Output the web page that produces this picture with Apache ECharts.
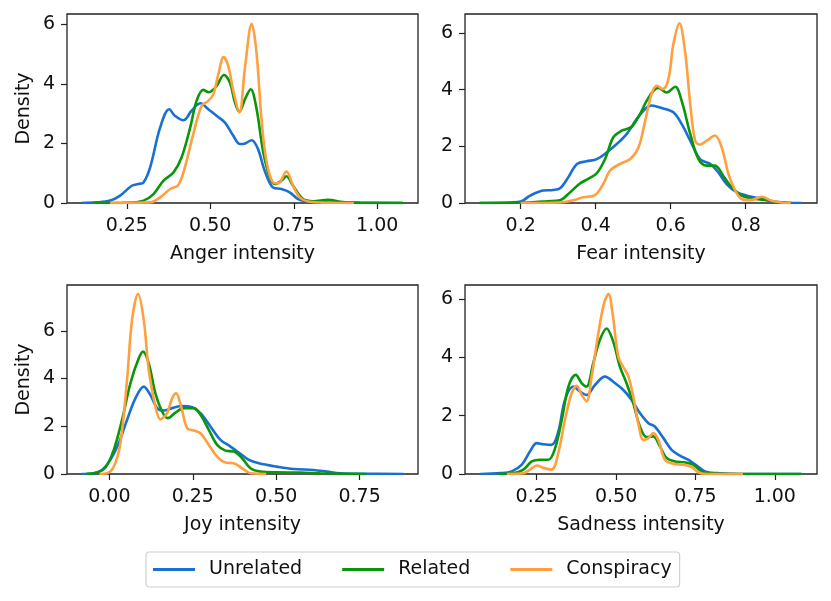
<!DOCTYPE html>
<html>
<head>
<meta charset="utf-8">
<script src="https://cdn.jsdelivr.net/npm/echarts@6/dist/echarts.min.js"></script>
<style>
html,body{margin:0;padding:0;background:#fff;}
#chart{width:831px;height:601px;}
</style>
</head>
<body>
<div id="chart"></div>
<script>
// ---------- DATA ----------
const seriesNames = ['Unrelated', 'Related', 'Conspiracy'];

const angerUnrelated = [[0.114,0],[0.16,0.02],[0.20,0.08],[0.23,0.25],[0.265,0.58],[0.285,0.64],[0.30,0.69],[0.32,1.2],[0.35,2.54],[0.377,3.15],[0.394,2.93],[0.42,2.78],[0.444,3.1],[0.471,3.35],[0.494,3.15],[0.519,2.93],[0.544,2.7],[0.569,2.26],[0.589,1.98],[0.604,2.0],[0.624,2.11],[0.643,1.81],[0.663,1.08],[0.688,0.52],[0.713,0.47],[0.738,0.36],[0.763,0.13],[0.798,0.04],[0.85,0.02],[0.95,0.005],[1.077,0]];
const angerRelated = [[0.15,0],[0.25,0.01],[0.30,0.08],[0.33,0.3],[0.36,0.75],[0.39,1.03],[0.414,1.53],[0.44,2.54],[0.459,3.43],[0.479,3.8],[0.495,3.72],[0.504,3.76],[0.519,3.93],[0.541,4.3],[0.559,4.04],[0.574,3.37],[0.587,3.07],[0.604,3.49],[0.621,3.82],[0.638,3.2],[0.658,1.75],[0.678,0.86],[0.693,0.64],[0.713,0.75],[0.728,0.9],[0.748,0.58],[0.778,0.13],[0.808,0.06],[0.853,0.11],[0.897,0.03],[0.95,0.01],[1.077,0]];
const angerConspiracy = [[0.2,0],[0.32,0.02],[0.35,0.19],[0.38,0.47],[0.404,0.6],[0.424,1.2],[0.449,2.31],[0.474,3.26],[0.494,3.43],[0.509,3.65],[0.524,4.32],[0.54,4.9],[0.554,4.6],[0.569,3.77],[0.587,3.04],[0.604,4.55],[0.624,6.02],[0.638,5.1],[0.653,2.87],[0.668,1.42],[0.688,0.69],[0.703,0.66],[0.728,1.06],[0.748,0.58],[0.768,0.19],[0.798,0.04],[0.85,0.01],[0.93,0]];

const fearUnrelated = [[0.0915,0],[0.15,0.005],[0.2,0.05],[0.225,0.26],[0.26,0.44],[0.287,0.46],[0.305,0.52],[0.327,0.91],[0.35,1.38],[0.376,1.47],[0.403,1.55],[0.43,1.79],[0.456,2.08],[0.483,2.44],[0.509,2.96],[0.532,3.32],[0.549,3.44],[0.576,3.35],[0.607,3.2],[0.629,2.79],[0.652,2.2],[0.678,1.55],[0.705,1.38],[0.727,1.08],[0.749,0.67],[0.776,0.38],[0.803,0.26],[0.838,0.16],[0.874,0.05],[0.91,0.01],[0.949,0]];
const fearRelated = [[0.09,0],[0.225,0.02],[0.27,0.06],[0.305,0.1],[0.332,0.38],[0.358,0.69],[0.38,0.85],[0.403,1.05],[0.425,1.55],[0.447,2.32],[0.469,2.55],[0.496,2.69],[0.518,3.14],[0.536,3.61],[0.554,3.96],[0.567,4.06],[0.589,3.9],[0.612,4.1],[0.629,3.61],[0.652,2.44],[0.674,1.55],[0.696,1.32],[0.718,1.32],[0.74,0.96],[0.763,0.55],[0.789,0.26],[0.825,0.14],[0.86,0.1],[0.883,0.02],[0.92,0]];
const fearConspiracy = [[0.2,0],[0.305,0.02],[0.34,0.1],[0.367,0.2],[0.398,0.28],[0.42,0.67],[0.438,1.14],[0.465,1.38],[0.492,1.55],[0.514,1.96],[0.532,2.9],[0.549,3.85],[0.563,4.14],[0.579,4.02],[0.594,4.38],[0.607,5.6],[0.623,6.34],[0.638,5.38],[0.652,3.49],[0.665,2.2],[0.678,2.06],[0.696,2.2],[0.718,2.38],[0.736,1.96],[0.754,1.02],[0.772,0.44],[0.789,0.14],[0.812,0.1],[0.843,0.22],[0.869,0.08],[0.9,0.01],[0.92,0]];

const joyUnrelated = [[-0.082,0],[-0.047,0.03],[-0.022,0.17],[0.003,0.59],[0.028,1.29],[0.053,2.27],[0.078,3.17],[0.103,3.66],[0.123,3.31],[0.143,2.76],[0.163,2.66],[0.188,2.76],[0.218,2.85],[0.248,2.8],[0.273,2.55],[0.303,1.99],[0.333,1.43],[0.363,1.15],[0.388,0.9],[0.418,0.59],[0.448,0.45],[0.502,0.31],[0.552,0.21],[0.612,0.17],[0.652,0.1],[0.692,0.03],[0.752,0.01],[0.882,0]];
const joyRelated = [[-0.07,0],[-0.037,0.06],[-0.012,0.27],[0.013,1.0],[0.038,2.27],[0.063,3.8],[0.088,4.85],[0.101,5.13],[0.118,4.64],[0.138,3.38],[0.158,2.62],[0.175,2.34],[0.198,2.57],[0.223,2.76],[0.253,2.76],[0.273,2.48],[0.298,1.85],[0.323,1.22],[0.348,0.98],[0.373,0.94],[0.398,0.66],[0.423,0.24],[0.453,0.1],[0.502,0.07],[0.572,0.06],[0.632,0.03],[0.7,0.01],[0.77,0]];
const joyConspiracy = [[-0.03,0],[-0.007,0.03],[0.013,0.3],[0.033,1.29],[0.053,3.94],[0.068,6.46],[0.086,7.55],[0.103,6.46],[0.118,4.36],[0.138,2.83],[0.153,2.29],[0.173,2.55],[0.188,3.17],[0.2,3.38],[0.215,2.83],[0.233,1.92],[0.253,1.82],[0.273,1.71],[0.298,1.22],[0.323,0.73],[0.348,0.48],[0.373,0.45],[0.398,0.24],[0.423,0.03],[0.453,0.005],[0.47,0]];

const sadnessUnrelated = [[0.072,0],[0.135,0.03],[0.171,0.09],[0.203,0.32],[0.229,0.78],[0.25,1.06],[0.271,1.02],[0.297,1.0],[0.318,1.45],[0.339,2.54],[0.365,3.0],[0.386,2.83],[0.407,2.71],[0.434,3.06],[0.465,3.34],[0.497,3.11],[0.523,2.88],[0.549,2.54],[0.575,2.09],[0.602,1.74],[0.622,1.63],[0.649,1.23],[0.675,0.83],[0.701,0.63],[0.727,0.49],[0.754,0.29],[0.78,0.09],[0.817,0.03],[0.89,0],[1.084,0]];
const sadnessRelated = [[0.124,0],[0.177,0.03],[0.208,0.15],[0.234,0.43],[0.26,0.49],[0.287,0.49],[0.308,0.89],[0.329,1.86],[0.35,3.0],[0.373,3.4],[0.392,3.11],[0.407,3.0],[0.428,3.8],[0.449,4.6],[0.47,4.99],[0.491,4.54],[0.512,3.68],[0.533,3.11],[0.554,2.43],[0.575,1.63],[0.596,1.27],[0.617,1.29],[0.638,0.95],[0.659,0.55],[0.685,0.43],[0.717,0.4],[0.743,0.32],[0.769,0.09],[0.801,0.02],[0.89,0],[1.084,0]];
const sadnessConspiracy = [[0.156,0],[0.208,0.03],[0.229,0.15],[0.25,0.29],[0.271,0.21],[0.297,0.15],[0.318,0.72],[0.339,1.86],[0.36,2.77],[0.376,3.02],[0.392,2.71],[0.407,2.49],[0.423,3.34],[0.444,4.82],[0.462,5.85],[0.476,6.17],[0.489,5.5],[0.507,4.02],[0.523,3.66],[0.539,3.34],[0.554,2.66],[0.57,1.74],[0.586,1.17],[0.602,1.23],[0.617,1.4],[0.633,1.17],[0.654,0.49],[0.68,0.35],[0.712,0.32],[0.738,0.24],[0.759,0.06],[0.785,0],[0.9,0]];

const angerTicks = [0.25, 0.5, 0.75, 1.0];
const fearTicks = [0.2, 0.4, 0.6, 0.8];
const joyTicks = [0.0, 0.25, 0.5, 0.75];
const sadnessTicks = [0.25, 0.5, 0.75, 1.0];
const densityTicks = [0, 2, 4, 6];
const xTitles = ['Anger intensity', 'Fear intensity', 'Joy intensity', 'Sadness intensity'];
const yTitle = 'Density';

// ---------- LAYOUT / STYLE ----------
const FONT = 'DejaVu Sans';
const FS = 19;
const colors = ['#1a6fd3', '#0a960a', '#ff9f3f'];
const panels = [
  {data:[angerUnrelated, angerRelated, angerConspiracy], ticks:angerTicks, dec:2,
   grid:{left:67, top:14, width:351, height:189}, xMin:0.071, xMax:1.122, yMax:6.35, yName:true},
  {data:[fearUnrelated, fearRelated, fearConspiracy], ticks:fearTicks, dec:1,
   grid:{left:465, top:14, width:352, height:189}, xMin:0.0515, xMax:0.99, yMax:6.67, yName:false},
  {data:[joyUnrelated, joyRelated, joyConspiracy], ticks:joyTicks, dec:2,
   grid:{left:67, top:285, width:351, height:189}, xMin:-0.127, xMax:0.925, yMax:7.92, yName:true},
  {data:[sadnessUnrelated, sadnessRelated, sadnessConspiracy], ticks:sadnessTicks, dec:2,
   grid:{left:465, top:285, width:352, height:189}, xMin:0.024, xMax:1.133, yMax:6.48, yName:false}
];

const grids = [], xAxes = [], yAxes = [], series = [];
const tickStyle = {show:true, length:6, lineStyle:{color:'#222', width:1.2}};
panels.forEach((p, i) => {
  grids.push(Object.assign({show:true, borderColor:'#222', borderWidth:1.3, backgroundColor:'transparent'}, p.grid));
  xAxes.push({
    type:'value', gridIndex:i, min:p.xMin, max:p.xMax, position:'bottom',
    axisLine:{show:false, onZero:false}, splitLine:{show:false},
    axisTick:Object.assign({customValues:p.ticks}, tickStyle),
    axisLabel:{customValues:p.ticks, margin:14, fontFamily:FONT, fontSize:FS, color:'#111',
      formatter:(v)=>Number(v).toFixed(p.dec)},
    name:xTitles[i], nameLocation:'middle', nameGap:42,
    nameTextStyle:{fontFamily:FONT, fontSize:FS, color:'#111'}
  });
  yAxes.push({
    type:'value', gridIndex:i, min:0, max:p.yMax, position:'left',
    axisLine:{show:false, onZero:false}, splitLine:{show:false},
    axisTick:Object.assign({customValues:densityTicks}, tickStyle),
    axisLabel:{customValues:densityTicks, margin:12, fontFamily:FONT, fontSize:FS, color:'#111',
      formatter:(v)=>String(Math.round(v))},
    name:p.yName ? yTitle : '', nameLocation:'middle', nameGap:33,
    nameTextStyle:{fontFamily:FONT, fontSize:FS, color:'#111'}
  });
  p.data.forEach((d, k) => {
    series.push({
      type:'line', name:seriesNames[k], xAxisIndex:i, yAxisIndex:i, data:d,
      smooth:0.35, symbol:'none', showSymbol:false,
      lineStyle:{color:colors[k], width:2.6}, itemStyle:{color:colors[k]},
      z:2+k, animation:false
    });
  });
});

const chart = echarts.init(document.getElementById('chart'), null, {renderer:'canvas'});
chart.setOption({
  animation:false,
  backgroundColor:'#fff',
  grid:grids, xAxis:xAxes, yAxis:yAxes, series:series,
  legend:{
    data:seriesNames.map((n, k) => ({name:n, icon:'rect', itemStyle:{color:colors[k]}})),
    left:146, top:552,
    padding:[8,8,8,7], itemGap:40, itemWidth:42, itemHeight:3,
    borderColor:'#d0d0d0', borderWidth:1.2, borderRadius:3,
    textStyle:{fontFamily:FONT, fontSize:FS, color:'#111', padding:[0,0,0,9]}
  }
});
</script>
</body>
</html>
